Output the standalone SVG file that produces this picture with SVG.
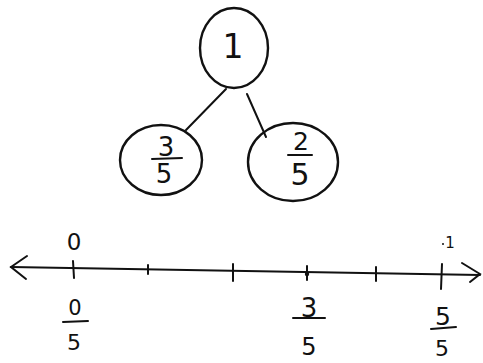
<svg xmlns="http://www.w3.org/2000/svg" width="483" height="363" viewBox="0 0 483 363">
<style>
.n{fill:none;stroke:#111;stroke-width:2.4}
.l{fill:none;stroke:#111;stroke-width:2;stroke-linecap:round}
text{font-family:"DejaVu Sans","Liberation Sans",sans-serif;fill:#111;text-anchor:middle}
</style>
<rect width="483" height="363" fill="#fff"/>
<g id="connectors">
<line class="l" x1="226" y1="89" x2="186" y2="130"/>
<line class="l" x1="247" y1="94" x2="266" y2="137"/>
</g>
<g id="node-1">
<ellipse class="n" cx="234" cy="48" rx="34" ry="40"/>
<text font-size="33" x="233" y="58">1</text>
</g>
<g id="node-3-5">
<ellipse class="n" cx="161" cy="160" rx="41" ry="35"/>
<text font-size="26" x="166" y="156">3</text>
<line class="l" x1="152" y1="159" x2="182" y2="158"/>
<text font-size="26" x="164" y="183">5</text>
</g>
<g id="node-2-5">
<ellipse class="n" cx="293" cy="162" rx="45" ry="39"/>
<text font-size="25" x="301" y="150">2</text>
<line class="l" x1="288" y1="155" x2="312" y2="155"/>
<text font-size="30" x="300" y="185">5</text>
</g>
<g id="number-line">
<line class="l" x1="11" y1="267" x2="480" y2="275"/>
<polyline class="l" points="27,256 11,267 26,279"/>
<polyline class="l" points="462,263 480,274 470,282"/>
<line class="l" x1="73" y1="261" x2="74" y2="278"/>
<line class="l" x1="148" y1="265" x2="148" y2="274"/>
<line class="l" x1="233" y1="264" x2="233" y2="281"/>
<line class="l" x1="307" y1="266" x2="307" y2="280"/>
<circle cx="307" cy="274" r="2.2" fill="#111"/>
<line class="l" x1="376" y1="267" x2="376" y2="281"/>
<line class="l" x1="442" y1="264" x2="441" y2="289"/>
<text font-size="23" x="74" y="250">0</text>
<text font-size="15" x="450" y="248">1</text>
<circle cx="443" cy="244" r="1" fill="#111"/>
<text font-size="21" x="75" y="315">0</text>
<line class="l" x1="63" y1="322" x2="88" y2="321"/>
<text font-size="22" x="74" y="350">5</text>
<text font-size="26" x="309" y="317">3</text>
<line class="l" x1="293" y1="318" x2="325" y2="318"/>
<text font-size="24" x="309" y="355">5</text>
<text font-size="25" x="443" y="325">5</text>
<line class="l" x1="431" y1="329" x2="456" y2="327"/>
<text font-size="22" x="442" y="356">5</text>
</g>
</svg>
